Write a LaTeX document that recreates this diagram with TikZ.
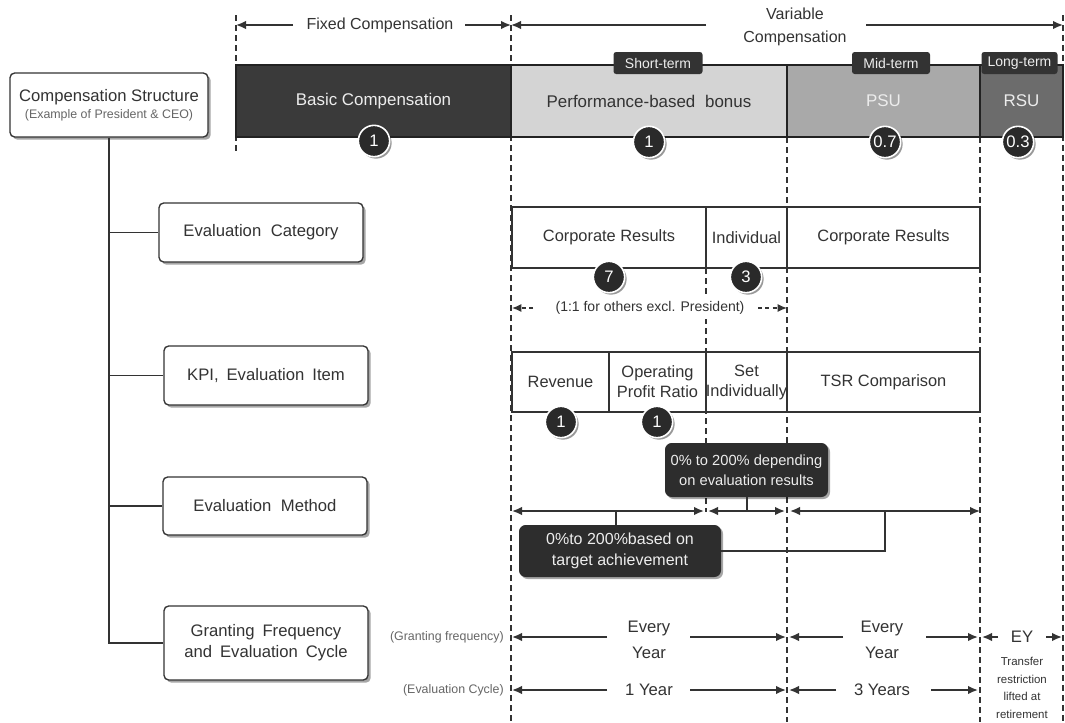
\documentclass[tikz,border=0pt]{standalone}
\usepackage{fontspec}
\setmainfont{Liberation Sans}
\usetikzlibrary{arrows.meta,shadows,calc}
\definecolor{ink}{HTML}{333333}
\definecolor{barline}{HTML}{222222}
\definecolor{basicfill}{HTML}{3A3A3A}
\definecolor{perffill}{HTML}{D4D4D4}
\definecolor{psufill}{HTML}{A9A9A9}
\definecolor{rsufill}{HTML}{6C6C6C}
\definecolor{numfill}{HTML}{2A2A2A}
\definecolor{tagfill}{HTML}{333333}
\definecolor{dboxfill}{HTML}{2D2D2D}
\definecolor{subgray}{HTML}{666666}
\definecolor{lighttext}{HTML}{EDEDED}
\tikzset{
  wh/.style 2 args={minimum width={#1*0.75pt}, minimum height={#2*0.75pt}},
  lbox/.style={draw=ink, line width=1pt, rounded corners=3.5pt, fill=white, text=ink, align=center, inner sep=0pt,
    font=\fontsize{12.5}{16}\selectfont,
    drop shadow={shadow xshift=2pt, shadow yshift=-2pt, opacity=.35, fill=black}},
  bar/.style={draw=barline, line width=1pt, inner sep=0pt, font=\fontsize{12.7}{15}\selectfont},
  cell/.style={draw=ink, fill=white, line width=0.9pt, inner sep=0pt, align=center, text=ink,
    font=\fontsize{12.3}{15}\selectfont},
  num/.style={circle, fill=numfill, draw=white, line width=1.2pt, minimum size=23.5pt, inner sep=0pt,
    text=white, font=\fontsize{12.5}{14}\selectfont,
    drop shadow={shadow xshift=1.5pt, shadow yshift=-1.5pt, opacity=.4, fill=black}},
  tag/.style={fill=tagfill, rounded corners=2pt, inner sep=0pt, text=lighttext, font=\fontsize{10.5}{12}\selectfont},
  dbox/.style={fill=dboxfill, rounded corners=5pt, inner sep=0pt, align=center, text=lighttext,
    drop shadow={shadow xshift=1.5pt, shadow yshift=-1.5pt, opacity=.35, fill=black}},
  vdash/.style={draw=ink, line width=0.9pt, dash pattern=on 4.5pt off 3pt},
  arr/.style={draw=ink, line width=1.3pt, -{Latex[length=7.5pt,width=6.5pt]}},
  darr/.style={draw=ink, line width=1.3pt, {Latex[length=7.5pt,width=6.5pt]}-{Latex[length=7.5pt,width=6.5pt]}},
  dasharr/.style={draw=ink, line width=0.9pt, dash pattern=on 3pt off 2.5pt, -{Latex[length=7pt,width=6pt]}},
  conn/.style={draw=ink, line width=1pt},
  lbl/.style={text=ink, inner sep=0pt, align=center},
}
\begin{document}
\begin{tikzpicture}[x=0.75pt,y=-0.75pt]
\useasboundingbox[fill=white] (0,0) rectangle (1065,722);

% ---------- dashed guide lines ----------
\coordinate (d0t) at (236,15);  \coordinate (d0b) at (236,155);
\coordinate (d1t) at (511,15);  \coordinate (d1b) at (511,722);
\coordinate (d2t) at (787,137); \coordinate (d2b) at (787,722);
\coordinate (d3t) at (980,137); \coordinate (d3b) at (980,722);
\coordinate (d4t) at (1063,15); \coordinate (d4b) at (1063,722);
\coordinate (d5t) at (706,268); \coordinate (d5b) at (706,512);
\draw[vdash] (d0t) -- (d0b);
\draw[vdash] (d1t) -- (d1b);
\draw[vdash] (d2t) -- (d2b);
\draw[vdash] (d3t) -- (d3b);
\draw[vdash] (d4t) -- (d4b);
\draw[vdash] (d5t) -- (d5b);

% ---------- top arrows ----------
\node[lbl, font=\fontsize{12}{15}\selectfont] (fixed) at (380,25) {Fixed Compensation};
\coordinate (fxl) at (236,25); \coordinate (fxr) at (511,25);
\coordinate (fxls) at (293,25); \coordinate (fxrs) at (465,25);
\draw[arr] (fxls) -- (fxl);
\draw[arr] (fxrs) -- (fxr);
\node[lbl, font=\fontsize{12}{17}\selectfont] (var) at (795,27) {Variable\\Compensation};
\coordinate (vl) at (511,25); \coordinate (vr) at (1063,25);
\coordinate (vls) at (706,25); \coordinate (vrs) at (866,25);
\draw[arr] (vls) -- (vl);
\draw[arr] (vrs) -- (vr);

% ---------- bars ----------
\node[bar, fill=basicfill, text=lighttext, wh={275}{72}] (basic) at (373.5,101) {Basic Compensation};
\node[bar, fill=perffill, text=ink, wh={276}{72}] (perf) at (649,101) {Performance-based\hspace{0.3em} bonus};
\node[bar, fill=psufill, text=lighttext, wh={193}{72}] (psu) at (883.5,101) {PSU};
\node[bar, fill=rsufill, text=lighttext, wh={83}{72}] (rsu) at (1021.5,101) {RSU};
\node[tag, wh={89}{22}] (tshort) at (658,63) {Short-term};
\node[tag, wh={78}{22}] (tmid) at (891,63) {Mid-term};
\node[tag, wh={76}{22}] (tlong) at (1019.5,63) {Long-term};
\node[num] (n1) at (374,141) {1};
\node[num] (n2) at (649,142) {1};
\node[num] (n3) at (885,142) {0.7};
\node[num] (n4) at (1018,142) {0.3};

% ---------- left tree ----------
\node[lbox, wh={198}{64}] (cs) at (109,105)
  {Compensation Structure\\[-3pt]{\fontsize{9.3}{11}\selectfont\color{subgray}(Example of President \& CEO)}};
\node[lbox, wh={204}{59}] (ec) at (261,232.5) {Evaluation\hspace{0.3em} Category};
\node[lbox, wh={204}{59}] (kpi) at (266,375.5) {KPI,\hspace{0.2em} Evaluation\hspace{0.2em} Item};
\node[lbox, wh={204}{58}] (em) at (265,506) {Evaluation\hspace{0.3em} Method};
\node[lbox, wh={204}{74}] (gf) at (266,643) {Granting\hspace{0.2em} Frequency\\and\hspace{0.2em} Evaluation\hspace{0.2em} Cycle};
\draw[conn] (cs.south) -- (cs.south |- gf.west) -- (gf.west);
\draw[conn] (cs.south |- ec.west) -- (ec.west);
\draw[conn] (cs.south |- kpi.west) -- (kpi.west);
\draw[conn] (cs.south |- em.west) -- (em.west);

% ---------- evaluation category ----------
\node[cell, wh={194}{61}] (cr1) at (609,237.5) {Corporate Results};
\node[cell, wh={81}{61}] (ind) at (746.5,237.5) {Individual};
\node[cell, wh={193}{61}] (cr2) at (883.5,237.5) {Corporate Results};
\node[num] (n7) at (609,277) {7};
\node[num] (n3b) at (746,277) {3};
\node[lbl, fill=white, inner xsep=2pt, inner ysep=3pt, font=\fontsize{10.5}{13}\selectfont] (ratio) at (650,308) {(1:1 for others excl. President)};
\coordinate (ral) at (512,308); \coordinate (rar) at (787,308);
\coordinate (rals) at (533,308); \coordinate (rars) at (758,308);
\draw[dasharr] (rals) -- (ral);
\draw[dasharr] (rars) -- (rar);

% ---------- KPI ----------
\node[cell, wh={97}{60}] (rev) at (560.5,382) {Revenue};
\node[cell, wh={97}{60}] (opr) at (657.5,382) {Operating\\Profit Ratio};
\node[cell, wh={81}{60}] (set) at (746.5,382) {Set\\Individually};
\node[cell, wh={193}{60}] (tsr) at (883.5,382) {TSR Comparison};
\node[num] (k1) at (561,422) {1};
\node[num] (k2) at (657,422) {1};

% ---------- evaluation method ----------
\node[dbox, wh={163}{54}, font=\fontsize{11}{15}\selectfont] (dep) at (746.5,470) {0\% to 200\% depending\\on evaluation results};
\node[dbox, wh={202}{52}, font=\fontsize{12}{16}\selectfont] (tgt) at (620,551) {0\%to 200\%based on\\target achievement};
\coordinate (a1l) at (512,511); \coordinate (a1r) at (704,511);
\coordinate (a2l) at (708,511); \coordinate (a2r) at (785,511);
\coordinate (a3l) at (790,511); \coordinate (a3r) at (980,511);
\draw[darr] (a1l) -- (a1r);
\draw[darr] (a2l) -- (a2r);
\draw[darr] (a3l) -- (a3r);
\coordinate (c747) at (747,511);
\coordinate (c616) at (616,511);
\coordinate (c885) at (885,511);
\draw[conn] (dep.south -| c747) -- (c747);
\draw[conn] (c616) -- (tgt.north -| c616);
\draw[conn] (tgt.east) -- (tgt.east -| c885) -- (c885);

% ---------- granting frequency / evaluation cycle ----------
\node[lbl, anchor=east, text=subgray, font=\fontsize{9.3}{11}\selectfont] (glab) at (504,637) {(Granting frequency)};
\node[lbl, anchor=east, text=subgray, font=\fontsize{9.3}{11}\selectfont] (elab) at (504,690) {(Evaluation Cycle)};
\node[lbl, font=\fontsize{12.5}{19}\selectfont] (ey1) at (649,640) {Every\\Year};
\node[lbl, font=\fontsize{12.5}{19}\selectfont] (ey2) at (882,640) {Every\\Year};
\node[lbl, font=\fontsize{12.5}{15}\selectfont] (ey3) at (1022,637) {EY};
\node[lbl, font=\fontsize{12.5}{15}\selectfont] (y1) at (649,690) {1 Year};
\node[lbl, font=\fontsize{12.5}{15}\selectfont] (y3) at (882,690) {3 Years};
\node[lbl, font=\fontsize{8.6}{13.2}\selectfont] (tr) at (1022,688) {Transfer\\restriction\\lifted at\\retirement};
\coordinate (g0) at (512,637); \coordinate (g1) at (786,637); \coordinate (g2) at (789,637);
\coordinate (g3) at (978,637); \coordinate (g4) at (982,637); \coordinate (g5) at (1062,637);
\coordinate (e0) at (512,690); \coordinate (e1) at (786,690); \coordinate (e2) at (789,690);
\coordinate (e3) at (978,690);
\coordinate (gs0) at (607,637); \coordinate (gs1) at (690,637); \coordinate (gs2) at (843,637);
\coordinate (gs3) at (926,637); \coordinate (gs4) at (998,637); \coordinate (gs5) at (1046,637);
\coordinate (es0) at (607,690); \coordinate (es1) at (690,690); \coordinate (es2) at (836,690);
\coordinate (es3) at (931,690);
\draw[arr] (gs0) -- (g0);
\draw[arr] (gs1) -- (g1);
\draw[arr] (gs2) -- (g2);
\draw[arr] (gs3) -- (g3);
\draw[arr] (gs4) -- (g4);
\draw[arr] (gs5) -- (g5);
\draw[arr] (es0) -- (e0);
\draw[arr] (es1) -- (e1);
\draw[arr] (es2) -- (e2);
\draw[arr] (es3) -- (e3);
\end{tikzpicture}
\end{document}
